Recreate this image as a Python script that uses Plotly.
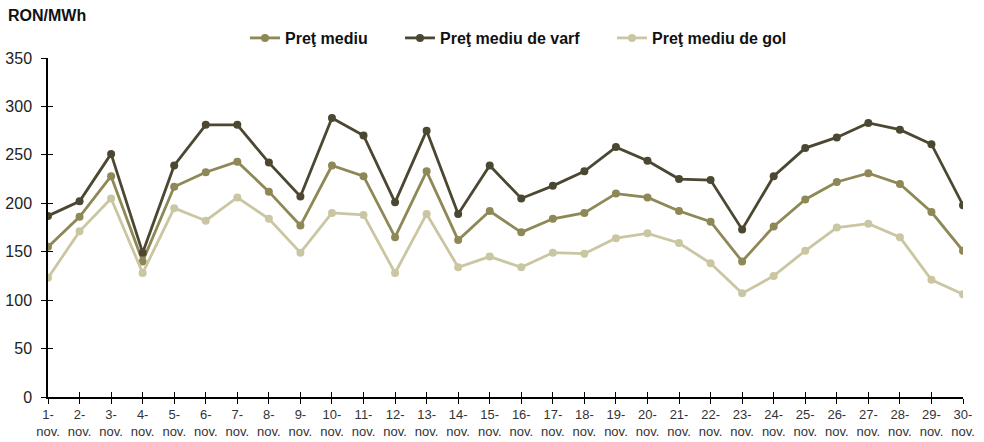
import plotly.graph_objects as go

days = [f"{i}-<br>nov." for i in range(1, 31)]

pret_mediu = [155, 186, 228, 140, 217, 232, 243, 212, 177, 239,
              228, 165, 233, 162, 192, 170, 184, 190, 210, 206,
              192, 181, 140, 176, 204, 222, 231, 220, 191, 151]
pret_varf = [187, 202, 251, 149, 239, 281, 281, 242, 207, 288,
             270, 201, 275, 189, 239, 205, 218, 233, 258, 244,
             225, 224, 173, 228, 257, 268, 283, 276, 261, 198]
pret_gol = [123, 171, 205, 128, 195, 182, 206, 184, 149, 190,
            188, 128, 189, 134, 145, 134, 149, 148, 164, 169,
            159, 138, 107, 125, 151, 175, 179, 165, 121, 106]

y_ticks = [0, 50, 100, 150, 200, 250, 300, 350]

series = [
    ("Preţ mediu", pret_mediu, "#8E8856", "legend"),
    ("Preţ mediu de varf", pret_varf, "#4B4731", "legend2"),
    ("Preţ mediu de gol", pret_gol, "#CBC6A2", "legend3"),
]

FONT = "Arial, 'Liberation Sans', sans-serif"

fig = go.Figure()
for name, vals, col, lg in series:
    fig.add_trace(go.Scatter(
        x=list(range(len(days))), y=vals, name=name, mode="lines+markers",
        line=dict(color=col, width=2.8),
        marker=dict(color=col, size=8),
        legend=lg,
    ))

# overlay dummy trace for inside ticks (ticks crossing the axis)
fig.add_trace(go.Scatter(x=[None], y=[None], xaxis="x2", yaxis="y2",
                         showlegend=False, hoverinfo="skip"))

legend_style = dict(orientation="h", xanchor="left", y=1.059, yanchor="middle",
                    font=dict(size=16, family=FONT, color="#111111", weight="bold"),
                    itemsizing="trace", bgcolor="rgba(0,0,0,0)", borderwidth=0)

fig.update_layout(
    width=984, height=442,
    margin=dict(l=48, r=21, t=58, b=45, autoexpand=False),
    paper_bgcolor="white", plot_bgcolor="white",
    font=dict(family=FONT, color="#222222"),
    showlegend=True,
    legend=dict(x=0.2153, **legend_style),
    legend2=dict(x=0.3847, **legend_style),
    legend3=dict(x=0.6164, **legend_style),
    xaxis=dict(range=[0, 29], tickmode="array", tickvals=list(range(30)), ticktext=days,
               showgrid=False, zeroline=False, showline=True, linecolor="#000000", linewidth=1.5,
               ticks="outside", ticklen=5, tickcolor="#000000", tickwidth=1,
               tickfont=dict(size=13, color="#333333"), ticklabelstandoff=0, fixedrange=True),
    yaxis=dict(range=[0, 350], tickvals=y_ticks,
               showgrid=False, zeroline=False, showline=True, linecolor="#000000", linewidth=1.5,
               ticks="outside", ticklen=5, tickcolor="#000000", tickwidth=1,
               tickfont=dict(size=16, color="#222222"), ticklabelstandoff=6),
    xaxis2=dict(overlaying="x", range=[0, 29], tickvals=list(range(30)), showticklabels=False,
                showgrid=False, zeroline=False, showline=False,
                ticks="inside", ticklen=5, tickcolor="#000000", tickwidth=1, anchor="y2"),
    yaxis2=dict(overlaying="y", range=[0, 350], tickvals=y_ticks,
                showticklabels=False, showgrid=False, zeroline=False, showline=False,
                ticks="inside", ticklen=5, tickcolor="#000000", tickwidth=1, anchor="x2"),
    annotations=[dict(text="<b>RON/MWh</b>", xref="paper", yref="paper", x=-0.046, y=1.124,
                      xanchor="left", yanchor="middle", showarrow=False,
                      font=dict(size=16, color="#111111", family=FONT))],
)

fig.write_html("out.html")
